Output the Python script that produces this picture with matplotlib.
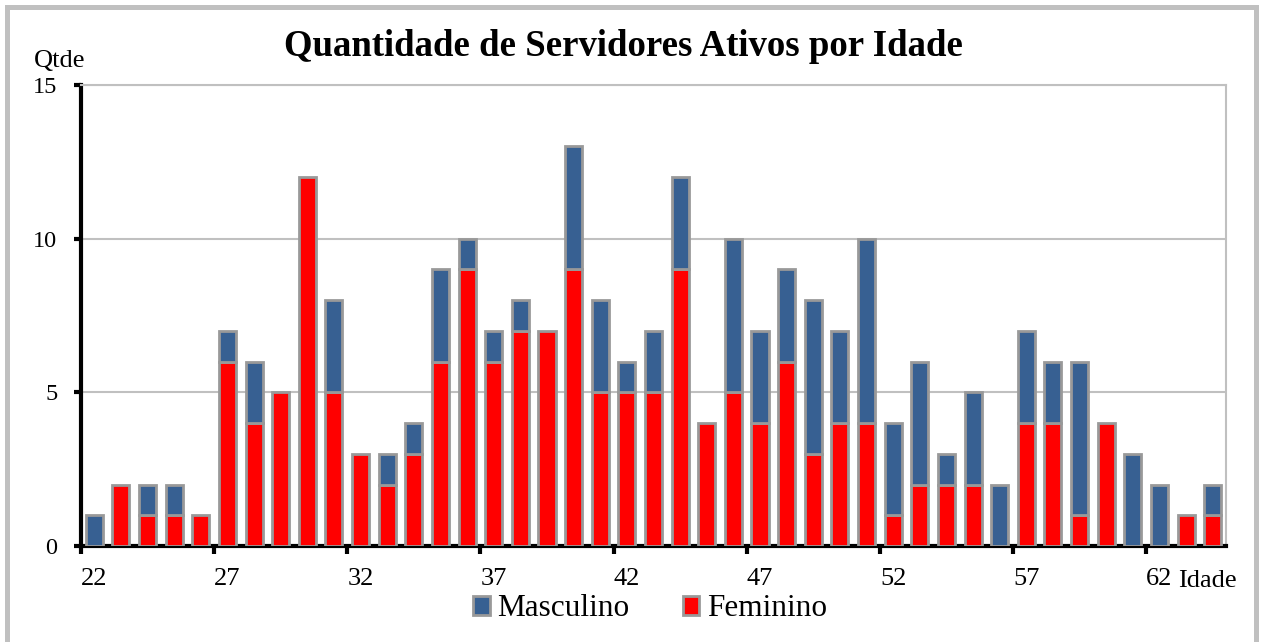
import numpy as np
import matplotlib
matplotlib.use("Agg")
import matplotlib.pyplot as plt
from matplotlib.patches import Patch, Rectangle

# idades 22..64
idades = list(range(22, 65))
feminino = [0, 2, 1, 1, 1, 6, 4, 5, 12, 5, 3, 2, 3, 6, 9, 6, 7, 7, 9, 5, 5, 5,
            9, 4, 5, 4, 6, 3, 4, 4, 1, 2, 2, 2, 0, 4, 4, 1, 4, 0, 0, 1, 1]
masculino = [1, 0, 1, 1, 0, 1, 2, 0, 0, 3, 0, 1, 1, 3, 1, 1, 1, 0, 4, 3, 1, 2,
             3, 0, 5, 3, 3, 5, 3, 6, 3, 4, 1, 3, 2, 3, 2, 5, 0, 3, 2, 0, 1]
yticks = [0, 5, 10, 15]

AZUL = "#376092"
VERMELHO = "#ff0000"
BORDA = "#999999"
CINZA = "#c0c0c0"

plt.rcParams["font.family"] = ["Liberation Serif", "DejaVu Serif"]

fig = plt.figure(figsize=(12.64, 6.42), dpi=100)
ax = fig.add_axes([81 / 1264, 1 - 546 / 642, (1226 - 81) / 1264, (546 - 85) / 642])

x = np.arange(len(idades))
fem = np.array(feminino)
masc = np.array(masculino)
w = 0.64

mf = fem > 0
ax.bar(x[mf], fem[mf], width=w, color=VERMELHO, edgecolor=BORDA, linewidth=2, zorder=3)
mm = masc > 0
ax.bar(x[mm], masc[mm], bottom=fem[mm], width=w, color=AZUL, edgecolor=BORDA,
       linewidth=2, zorder=3)

ax.set_xlim(-0.5, len(idades) - 0.5)
ax.set_ylim(0, 15)

# eixo y
ax.set_yticks(yticks)
ax.set_yticklabels([str(v) for v in yticks], fontsize=17.5)
ax.tick_params(axis="y", direction="out", length=5, width=3, pad=12, color="black")
ax.yaxis.grid(True, color=CINZA, linewidth=1.5, zorder=0)
ax.set_axisbelow(True)

# eixo x: marcas nas divisas, rótulos no centro da categoria
ax.set_xticks(np.arange(-0.5, len(idades), 5))
ax.set_xticklabels([])
ax.tick_params(axis="x", which="major", direction="out", length=6, width=3, color="black")
lab_pos = np.arange(0, len(idades), 5)
ax.set_xticks(lab_pos, minor=True)
ax.set_xticklabels([str(idades[i]) for i in lab_pos], minor=True, fontsize=19)
ax.tick_params(axis="x", which="minor", length=0, pad=16)

for s in ["left", "bottom"]:
    ax.spines[s].set_color("black")
    ax.spines[s].set_linewidth(3)
for s in ["top", "right"]:
    ax.spines[s].set_color(CINZA)
    ax.spines[s].set_linewidth(1.5)

fig.text(623.5 / 1264, 1 - 56 / 642, "Quantidade de Servidores Ativos por Idade",
         ha="center", va="baseline", fontsize=26.5, fontweight="bold")
fig.text(34 / 1264, 1 - 61 / 642, "Qtde", ha="left", va="center", fontsize=19)
fig.text(1178 / 1264, 1 - 581 / 642, "Idade", ha="left", va="center", fontsize=19)

handles = [Patch(facecolor=AZUL, edgecolor=BORDA, linewidth=2, label="Masculino"),
           Patch(facecolor=VERMELHO, edgecolor=BORDA, linewidth=2, label="Feminino")]
fig.legend(handles=handles, loc="center", bbox_to_anchor=(650 / 1264, 1 - 609 / 642),
           ncol=2, frameon=False, fontsize=22.5, handlelength=0.52, handleheight=0.52,
           handletextpad=0.25, columnspacing=1.7, borderpad=0)

# moldura externa
fig.patches.append(Rectangle((6.5 / 1264, -0.05), (1255.5 - 6.5) / 1264, 1.05 - 7 / 642,
                             transform=fig.transFigure, fill=False, edgecolor=CINZA,
                             linewidth=3.6))

fig.savefig("out.png", dpi=100)
